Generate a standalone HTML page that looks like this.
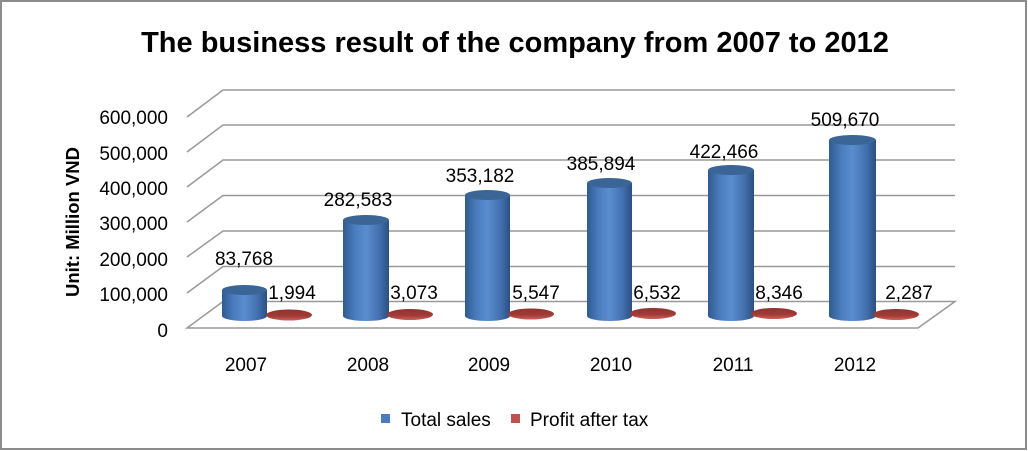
<!DOCTYPE html>
<html><head><meta charset="utf-8"><style>
html,body{margin:0;padding:0;background:#fff;}
svg{display:block;}
text{font-family:"Liberation Sans",sans-serif;}
</style></head><body>
<svg width="1028" height="451" viewBox="0 0 1028 451" xmlns="http://www.w3.org/2000/svg">
<defs>
<linearGradient id="bg" x1="0" x2="1" y1="0" y2="0">
<stop offset="0" stop-color="#2f5b8f"/><stop offset="0.25" stop-color="#4a7bbd"/><stop offset="0.5" stop-color="#5a8dd0"/><stop offset="0.8" stop-color="#426fae"/><stop offset="1" stop-color="#2b4f80"/>
</linearGradient>
<linearGradient id="rg" x1="0" x2="0" y1="0" y2="1">
<stop offset="0" stop-color="#8e3330"/><stop offset="0.6" stop-color="#a23b37"/><stop offset="1" stop-color="#d0605a"/>
</linearGradient>
</defs>
<rect x="1" y="1" width="1025" height="448" fill="#fff" stroke="#8c8c8c" stroke-width="2"/>
<text x="515" y="52" font-size="29" font-weight="bold" text-anchor="middle" fill="#000">The business result of the company from 2007 to 2012</text>
<g stroke="#999" stroke-width="1.5" fill="none">
<polyline points="187,117 223,90 955,90"/>
<polyline points="187,152 223,125 955,125"/>
<polyline points="187,187 223,160 955,160"/>
<polyline points="187,222 223,195.5 955,195.5"/>
<polyline points="187,257 223,231 955,231"/>
<polyline points="187,293 223,266.5 955,266.5"/>
<polygon points="187,328 223,301.5 955,301.5 918,328"/>
</g>
<g font-size="19" fill="#000" text-anchor="end">
<text x="168" y="124">600,000</text>
<text x="168" y="160">500,000</text>
<text x="168" y="195">400,000</text>
<text x="168" y="230">300,000</text>
<text x="168" y="266">200,000</text>
<text x="168" y="301">100,000</text>
<text x="168" y="337">0</text>
</g>
<text transform="translate(79,222) rotate(-90)" font-size="18.5" font-weight="bold" text-anchor="middle">Unit: Million VND</text>
<g>
<path d="M222,290 L222,316 A22.5,5 0 0 0 267,316 L267,290 Z" fill="url(#bg)"/><ellipse cx="244.5" cy="290" rx="22.5" ry="5" fill="#3a6596"/>
<path d="M343,220 L343,316 A23,5 0 0 0 389,316 L389,220 Z" fill="url(#bg)"/><ellipse cx="366" cy="220" rx="23" ry="5" fill="#3a6596"/>
<path d="M465,195 L465,316 A22.5,5 0 0 0 510,316 L510,195 Z" fill="url(#bg)"/><ellipse cx="487.5" cy="195" rx="22.5" ry="5" fill="#3a6596"/>
<path d="M587,183 L587,316 A22.5,5 0 0 0 632,316 L632,183 Z" fill="url(#bg)"/><ellipse cx="609.5" cy="183" rx="22.5" ry="5" fill="#3a6596"/>
<path d="M708,170 L708,316 A23,5 0 0 0 754,316 L754,170 Z" fill="url(#bg)"/><ellipse cx="731" cy="170" rx="23" ry="5" fill="#3a6596"/>
<path d="M829,140 L829,316 A23.5,5 0 0 0 876,316 L876,140 Z" fill="url(#bg)"/><ellipse cx="852.5" cy="140" rx="23.5" ry="5" fill="#3a6596"/>
</g>
<g fill="url(#rg)">
<ellipse cx="289" cy="315" rx="23" ry="5.5"/>
<ellipse cx="410" cy="314.5" rx="23" ry="5.5"/>
<ellipse cx="531" cy="314" rx="23" ry="5.5"/>
<ellipse cx="653" cy="313.5" rx="23" ry="5.5"/>
<ellipse cx="774" cy="313.5" rx="23" ry="5.5"/>
<ellipse cx="896" cy="314.5" rx="23" ry="5.5"/>
</g>
<g font-size="19" fill="#000" text-anchor="middle">
<text x="244" y="265">83,768</text>
<text x="358" y="206">282,583</text>
<text x="480" y="182">353,182</text>
<text x="601" y="170">385,894</text>
<text x="724" y="158">422,466</text>
<text x="845" y="126">509,670</text>
<text x="292" y="299">1,994</text>
<text x="414" y="299">3,073</text>
<text x="536" y="299">5,547</text>
<text x="657" y="299">6,532</text>
<text x="779" y="299">8,346</text>
<text x="909" y="299">2,287</text>
<text x="246" y="371">2007</text>
<text x="368" y="371">2008</text>
<text x="489" y="371">2009</text>
<text x="611" y="371">2010</text>
<text x="733" y="371">2011</text>
<text x="855" y="371">2012</text>
</g>
<rect x="381" y="414" width="9" height="9" fill="#4a7bbd"/>
<text x="401" y="426" font-size="19">Total sales</text>
<rect x="511" y="414" width="9" height="9" fill="#c0504d"/>
<text x="530" y="426" font-size="19">Profit after tax</text>
</svg>
</body></html>
